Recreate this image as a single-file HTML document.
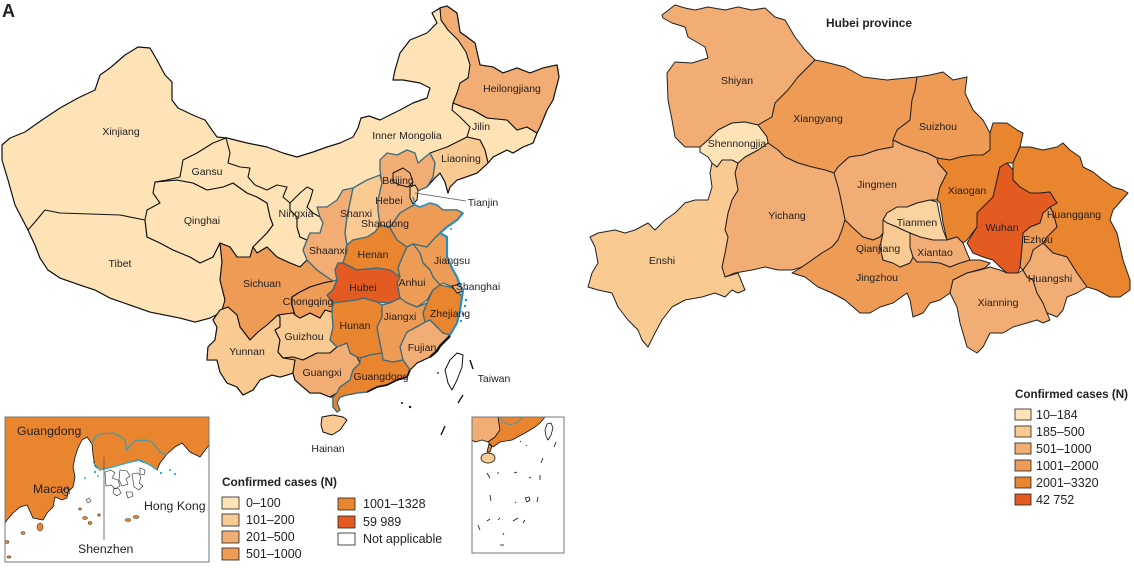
<!DOCTYPE html>
<html><head><meta charset="utf-8"><style>
html,body{margin:0;padding:0;background:#fff;}
svg{display:block;}
text{font-family:"Liberation Sans",Arial,sans-serif;fill:#231f20;}
.l{font-size:10.5px;text-anchor:middle;}
.lg{font-size:12.5px;}
.t{font-size:11.8px;font-weight:bold;}
</style></head><body>
<svg width="1134" height="570" viewBox="0 0 1134 570" xmlns="http://www.w3.org/2000/svg">
<rect width="1134" height="570" fill="#fff"/>
<text x="2" y="17" style="font-size:18px;font-weight:bold">A</text>

<!-- ===== CHINA MAP ===== -->
<g stroke-linejoin="round">
<polygon fill="#fde3b6" stroke="#111" stroke-width="1.2" points="2,145 10,138 25,132 42,120 60,108 78,98 95,90 100,75 110,68 125,55 138,47 150,48 157,60 165,75 172,82 172,100 178,108 195,116 205,120 212,130 217,137 227,138 247,143 267,147 283,153 297,157 313,152 327,147 340,143 353,137 358,128 361,118 369,116 380,120 400,110 413,103 427,98 430,88 420,83 403,80 393,80 395,70 400,53 410,40 427,33 437,23 432,13 440,8 447,6 457,13 460,32 475,43 480,65 493,67 503,73 517,68 530,73 543,68 557,65 559,77 553,100 547,110 540,127 537,133 533,143 523,147 513,153 507,150 493,157 488,163 477,173 463,178 457,180 450,187 448,193 445,182 440,173 433,180 427,187 415,192 413,197 415,205 420,207 430,203 437,205 443,210 457,210 463,213 457,220 447,227 440,233 447,237 447,257 453,270 457,277 460,285 463,291 462,297 460,310 457,323 450,335 445,340 440,345 437,350 430,357 417,363 410,370 407,377 397,380 387,385 377,387 367,392 357,393 347,395 340,397 337,403 340,410 337,412 333,407 333,397 330,397 320,393 310,393 303,387 295,380 293,373 287,375 280,377 272,375 260,380 253,390 243,395 237,387 227,383 220,372 217,360 207,360 208,347 215,340 217,327 213,320 220,310 210,318 195,322 180,318 165,315 150,312 130,305 110,298 95,290 80,285 60,278 48,270 40,258 35,245 28,230 15,205 8,180 2,160"/>

<!-- cream provinces -->
<g fill="#fde3b6" stroke="#111" stroke-width="1.1">
<polygon points="28,230 35,222 45,210 60,213 90,214 120,215 145,220 147,237 160,243 173,250 190,257 200,263 213,257 220,243 222,262 220,280 225,300 222,312 210,318 195,322 180,318 165,315 150,312 130,305 110,298 95,290 80,285 60,278 48,270 40,258 35,245"/>
<polygon points="155,182 177,180 193,183 207,190 223,187 233,183 247,193 257,197 267,203 270,217 273,225 267,233 260,240 253,247 250,257 237,257 230,247 220,243 213,257 200,263 190,257 173,250 160,243 147,237 145,220 147,210 160,203 153,193"/>
<polygon points="226,138 230,153 228,163 240,167 250,168 248,177 255,185 267,190 277,185 287,187 283,197 290,203 290,210 297,217 297,227 300,237 307,240 303,250 307,260 300,267 290,263 277,257 267,247 257,253 253,247 260,240 267,233 273,225 270,217 267,203 257,197 247,193 233,183 223,187 207,190 193,183 177,180 155,182 167,180 180,177 183,160 197,153 213,143"/>
<polygon points="290,203 300,193 307,187 313,190 310,200 307,207 313,213 320,217 323,223 320,233 310,233 307,240 300,237 297,227 297,217 290,210"/>
<polygon points="453,103 463,107 473,110 487,118 507,120 517,130 527,127 537,133 533,143 523,147 513,153 507,150 493,157 488,163 485,150 480,140 467,137 470,127 460,117 452,110"/>
</g>

<!-- black-bordered colored provinces -->
<g stroke="#111" stroke-width="1.1">
<polygon fill="#f1ad73" points="440,8 447,6 457,13 460,32 475,43 480,65 493,67 503,73 517,68 530,73 543,68 557,65 559,77 553,100 547,110 540,127 537,133 527,127 517,130 507,120 487,118 473,110 463,107 453,103 457,93 460,83 468,78 470,65 466,52 458,40 448,30 441,20"/>
<polygon fill="#f9ca92" points="430,153 447,147 467,137 480,140 485,150 488,163 477,173 463,178 457,180 450,187 448,193 445,182 440,173 433,180 427,187 433,177 435,163"/>
<polygon fill="#ee9b55" points="220,243 230,247 237,257 250,257 253,247 257,253 267,247 277,257 290,263 300,267 307,260 317,270 327,277 333,281 323,283 310,287 300,292 292,297 292,305 295,315 300,318 293,313 278,315 267,325 258,332 250,340 240,327 237,315 228,307 222,310 225,300 220,280 222,262"/>
<polygon fill="#f9ca92" points="220,310 228,307 237,315 240,327 250,340 258,332 267,325 278,315 280,317 280,327 275,330 280,340 278,352 283,358 292,357 295,360 293,373 287,375 280,377 272,375 260,380 253,390 243,395 237,387 227,383 220,372 217,360 207,360 208,347 215,340 217,327 213,320"/>
<polygon fill="#f9ca92" points="278,315 293,313 300,318 310,313 320,318 325,310 332,312 333,327 330,340 337,347 330,353 317,353 303,360 293,357 283,358 278,352 280,340 275,330 280,327 280,317"/>
<polygon fill="#ee9b55" points="292,297 300,292 310,287 323,283 333,281 337,280 333,290 327,295 333,303 332,312 325,310 320,318 310,313 300,318 295,315 292,305"/>
<polygon fill="#f1ad73" points="283,358 293,357 303,360 317,353 330,353 337,347 347,343 350,353 357,357 360,363 353,370 350,380 340,387 337,393 330,397 320,393 310,393 303,387 295,380 293,373 295,360"/>
<polygon fill="#f1ad73" points="425,322 430,320 437,327 443,333 450,335 445,340 440,345 437,350 430,357 417,363 410,370 403,360 400,347 403,340 407,332 420,325"/>
</g>

<!-- teal-bordered provinces -->
<g stroke="#3d6c7c" stroke-width="1.3">
<polygon fill="#f1ad73" points="317,207 327,207 337,200 343,190 353,188 350,203 347,217 345,233 347,245 347,250 343,263 338,263 335,270 337,280 333,281 327,277 317,270 307,260 303,250 307,240 310,233 320,233 323,223 320,217"/>
<polygon fill="#f9ca92" points="353,188 367,180 380,175 382,183 378,200 378,210 380,225 375,232 367,237 353,240 347,245 345,233 347,217 350,203"/>
<polygon fill="#f1ad73" points="380,160 387,153 397,155 407,150 415,153 418,163 430,153 435,163 433,177 427,187 415,192 413,197 415,205 410,207 400,213 395,220 390,227 380,225 378,210 378,200 382,183 380,170"/>
<polygon fill="#ee9b55" points="397,240 390,228 395,220 400,213 410,207 415,205 420,207 430,203 437,205 443,210 457,210 463,213 457,220 447,227 440,233 433,240 427,247 413,244 407,247"/>
<polygon fill="#e9842f" points="347,245 353,240 367,237 375,232 380,225 390,228 397,240 407,247 402,258 398,268 400,277 390,270 377,268 357,270 343,263 347,250"/>
<polygon fill="#ee9b55" points="413,244 427,247 433,240 440,233 447,237 447,257 453,270 457,277 460,285 453,287 443,283 440,285 433,277 430,270 423,263 420,253"/>
<polygon fill="#ee9b55" points="407,247 413,244 420,253 423,263 430,270 433,277 440,285 433,290 427,300 417,307 407,303 400,298 397,283 400,277 398,268 402,258"/>
<polygon fill="#e45b21" points="338,263 343,263 357,270 377,268 390,270 400,277 397,283 400,298 390,303 377,302 363,298 357,300 340,302 333,303 327,295 333,290 337,280 335,270"/>
<polygon fill="#e9842f" points="333,303 340,302 357,300 363,298 377,302 382,305 382,317 377,327 380,343 382,353 370,355 360,358 357,357 350,353 347,343 337,347 330,340 333,327 332,312"/>
<polygon fill="#ee9b55" points="382,305 390,303 400,298 407,303 417,307 427,303 423,313 425,322 420,325 407,332 403,340 400,347 403,360 393,362 383,360 382,353 380,343 377,327 382,317"/>
<polygon fill="#e9842f" points="440,285 450,287 457,290 462,297 460,310 457,323 450,335 443,333 437,327 430,320 425,322 423,313 427,303 433,290"/>
<polygon fill="#e9842f" points="360,358 370,355 382,353 383,360 393,362 403,360 410,370 407,377 397,380 387,385 377,387 367,392 357,393 347,395 340,397 337,403 340,410 337,412 333,407 333,397 337,393 340,387 350,380 353,370 360,363"/>
</g>
<g stroke="#111" stroke-width="1">
<polygon fill="#f1ad73" points="393,173 403,168 410,173 413,182 408,187 400,185 393,182"/>
<polygon fill="#f9ca92" points="410,187 415,185 418,190 417,200 413,204 410,198"/>
<polygon fill="#f1ad73" points="452,286 460,284 463,291 457,293"/>
<polygon fill="#f9ca92" points="322,417 333,415 343,417 347,420 340,430 332,435 323,432 321,425"/>
<polygon fill="#fff" points="457,353 463,355 462,367 457,380 452,390 448,383 445,370 450,360"/>
</g>
<!-- coast overlay -->
<polyline fill="none" stroke="#2b8cc4" stroke-width="2.2" points="463,213 457,220 447,227 440,233 447,237 447,257 453,270 457,277 460,285 463,291 462,297 460,310 457,323 450,335"/>
<polyline fill="none" stroke="#2b8cc4" stroke-width="1.5" points="413,197 415,205 420,207 430,203 437,205"/>
<g fill="#2b8cc4"><circle cx="466" cy="300" r="1.3"/><circle cx="465" cy="306" r="1.2"/><circle cx="463" cy="314" r="1.3"/><circle cx="461" cy="321" r="1.1"/><circle cx="466" cy="289" r="1"/><circle cx="451" cy="229" r="1"/></g>
<polyline fill="none" stroke="#111" stroke-width="2.4" points="450,336 445,341 440,346 437,351 430,357"/>
<polyline fill="none" stroke="#111" stroke-width="1.8" points="410,370 407,377 397,380 387,385 377,387 367,392"/>
<g stroke="#111" stroke-width="1.4" fill="#111">
<line x1="470" y1="360" x2="473" y2="369"/><line x1="463" y1="395" x2="458" y2="403"/><line x1="445" y1="426" x2="441" y2="435"/>
<circle cx="402" cy="403" r="1" stroke="none"/><circle cx="410" cy="407" r="1.2" stroke="none"/><circle cx="438" cy="373" r="0.9" stroke="none"/>
</g>
<line x1="415" y1="193" x2="466" y2="201" stroke="#555" stroke-width="0.8"/>
</g>

<!-- China labels -->
<g class="l">
<text x="121" y="135">Xinjiang</text>
<text x="407" y="139">Inner Mongolia</text>
<text x="512" y="92">Heilongjiang</text>
<text x="481" y="130">Jilin</text>
<text x="461" y="162">Liaoning</text>
<text x="207" y="175">Gansu</text>
<text x="398" y="184">Beijing</text>
<text x="483" y="206">Tianjin</text>
<text x="389" y="204">Hebei</text>
<text x="356" y="217">Shanxi</text>
<text x="296" y="217">Ningxia</text>
<text x="202" y="224">Qinghai</text>
<text x="385" y="227">Shandong</text>
<text x="373" y="258">Henan</text>
<text x="328" y="254">Shaanxi</text>
<text x="452" y="264">Jiangsu</text>
<text x="120" y="267">Tibet</text>
<text x="262" y="287">Sichuan</text>
<text x="412" y="286">Anhui</text>
<text x="363" y="291">Hubei</text>
<text x="478" y="290">Shanghai</text>
<text x="308" y="305">Chongqing</text>
<text x="355" y="329">Hunan</text>
<text x="400" y="320">Jiangxi</text>
<text x="450" y="317">Zhejiang</text>
<text x="304" y="340">Guizhou</text>
<text x="247" y="355">Yunnan</text>
<text x="422" y="351">Fujian</text>
<text x="322" y="376">Guangxi</text>
<text x="381" y="380">Guangdong</text>
<text x="494" y="382">Taiwan</text>
<text x="328" y="452">Hainan</text>
</g>

<!-- Guangdong inset -->
<defs><clipPath id="c1"><rect x="5" y="417" width="204" height="145"/></clipPath>
<clipPath id="c2"><rect x="472" y="417" width="92" height="136"/></clipPath></defs>
<g clip-path="url(#c1)">
<polygon fill="#e9842f" stroke="#111" stroke-width="0.8" points="5,417 209,417 209,445 200,457 190,452 182,443 175,447 167,454 160,463 157,470 150,465 138,460 127,463 113,467 100,470 95,466 93,455 92,444 87,437 82,440 78,448 75,457 73,467 75,477 73,487 68,492 67,498 62,500 55,497 53,507 47,513 43,520 33,518 27,505 20,507 13,513 7,520 5,523"/>
<polyline fill="none" stroke="#4a9aa8" stroke-width="1.3" points="92,444 95,437 100,434 113,433 120,436 125,440 127,450 130,445 135,441 145,440 152,442 157,448 160,452 167,455"/>
<polyline fill="none" stroke="#2ab0d0" stroke-width="1.3" points="93,462 100,470 113,467 127,463 140,460 150,465 157,470"/>
<g fill="#2ab0d0"><circle cx="95" cy="472" r="1.2"/><circle cx="98" cy="476" r="1"/><circle cx="161" cy="473" r="1.2"/><circle cx="170" cy="470" r="1"/><circle cx="175" cy="474" r="1.1"/><circle cx="85" cy="478" r="1"/></g>
<g fill="none" stroke="#222" stroke-width="0.6">
<path d="M105 472 l6 -2 l4 3 l-3 5 l6 2 l2 6 l-5 3 l-4 -4 l-5 1 z"/>
<path d="M120 470 l7 1 l3 5 l-4 3 l2 5 l-6 2 l-3 -6 z"/>
<path d="M132 474 l6 -1 l3 4 l-2 6 l4 3 l-4 4 l-5 -3 z"/>
<path d="M114 488 l5 1 l2 4 l-4 3 l-4 -3 z"/>
<path d="M126 492 l6 0 l1 4 l-5 2 z"/>
<path d="M140 468 l5 2 l-1 5 l-4 -1 z"/>
<path d="M86 500 l3 -2 l2 3 l-3 2 z"/>
<path d="M61 491 l6 -3 l3 5 l-5 3 z"/>
</g>
<g fill="#e9842f" stroke="#222" stroke-width="0.5">
<ellipse cx="40" cy="527" rx="3" ry="4"/><ellipse cx="23" cy="533" rx="2" ry="1.5"/><ellipse cx="7" cy="542" rx="2" ry="1.5"/><ellipse cx="9" cy="557" rx="2" ry="1.2"/>
<ellipse cx="85" cy="518" rx="2.5" ry="1.5"/><ellipse cx="90" cy="523" rx="2" ry="1.5"/><ellipse cx="99" cy="515" rx="1.5" ry="1.2"/>
<ellipse cx="128" cy="520" rx="3" ry="1.5"/><ellipse cx="136" cy="517" rx="3" ry="1.5"/><ellipse cx="80" cy="509" rx="1.5" ry="1.2"/>
</g>
</g>
<rect x="5" y="417" width="204" height="145" fill="none" stroke="#777" stroke-width="1"/>
<line x1="104" y1="457" x2="104" y2="540" stroke="#555" stroke-width="0.8"/>
<g style="font-size:12.3px">
<text x="17" y="435">Guangdong</text>
<text x="33" y="493">Macao</text>
<text x="144" y="510">Hong Kong</text>
<text x="78" y="553">Shenzhen</text>
</g>

<!-- SCS inset -->
<g clip-path="url(#c2)" stroke-linejoin="round">
<polygon fill="#f1ad73" stroke="#111" stroke-width="0.8" points="472,417 498,417 500,430 495,437 488,442 482,440 475,442 472,440"/>
<polygon fill="#e9842f" stroke="#111" stroke-width="0.8" points="498,417 545,417 540,423 535,427 525,433 512,440 500,442 493,447 490,444 488,442 495,437 500,430"/>
<polyline fill="none" stroke="#4a9aa8" stroke-width="1" points="500,417 503,422 510,425 518,422 523,417"/>
<polygon fill="#e9842f" stroke="#111" stroke-width="0.8" points="489,444 487,452 490,452 492,446"/>
<ellipse cx="488" cy="458" rx="7" ry="5" fill="#f9ca92" stroke="#111" stroke-width="0.8"/>
<polygon fill="#fff" stroke="#111" stroke-width="0.8" points="547,424 551,423 553,428 551,435 548,440 546,436 545,430"/>
<g stroke="#111" stroke-width="0.8" fill="none">
<line x1="556" y1="442" x2="554" y2="447"/><line x1="543" y1="458" x2="541" y2="463"/><line x1="487" y1="473" x2="490" y2="478"/>
<line x1="497" y1="473" x2="499" y2="473"/><line x1="514" y1="473" x2="517" y2="472"/><line x1="529" y1="478" x2="531" y2="477"/>
<line x1="540" y1="475" x2="540" y2="480"/><line x1="490" y1="495" x2="491" y2="501"/><line x1="538" y1="497" x2="537" y2="502"/>
<line x1="515" y1="502" x2="516" y2="503"/><path d="M525 498 l4 -1 l1 3 l-3 2 z"/><line x1="478" y1="525" x2="480" y2="530"/>
<line x1="487" y1="521" x2="490" y2="519"/><line x1="498" y1="520" x2="500" y2="518"/><line x1="513" y1="521" x2="518" y2="518"/>
<line x1="523" y1="523" x2="525" y2="520"/><line x1="503" y1="533" x2="504" y2="535"/><line x1="500" y1="545" x2="504" y2="545"/>
<line x1="520" y1="441" x2="521" y2="442"/><line x1="526" y1="445" x2="527" y2="446"/>
</g>
</g>
<rect x="472" y="417" width="92" height="136" fill="none" stroke="#777" stroke-width="1"/>

<!-- China legend -->
<text class="t" x="222" y="486" textLength="115" lengthAdjust="spacingAndGlyphs">Confirmed cases (N)</text>
<g stroke="#222" stroke-width="0.8">
<rect x="222" y="497" width="17" height="12" fill="#fde3b6"/>
<rect x="222" y="514" width="17" height="12" fill="#f9ca92"/>
<rect x="222" y="531" width="17" height="12" fill="#f1ad73"/>
<rect x="222" y="548" width="17" height="12" fill="#ee9b55"/>
<rect x="338" y="498" width="17" height="12" fill="#e9842f"/>
<rect x="338" y="516" width="17" height="12" fill="#e45b21"/>
<rect x="338" y="533" width="17" height="12" fill="#fff"/>
</g>
<g class="lg">
<text x="246" y="507">0–100</text>
<text x="246" y="524">101–200</text>
<text x="246" y="541">201–500</text>
<text x="246" y="558">501–1000</text>
<text x="363" y="508">1001–1328</text>
<text x="363" y="526">59 989</text>
<text x="363" y="543">Not applicable</text>
</g>

<!-- ===== HUBEI MAP ===== -->
<text x="869" y="27" style="font-size:11.9px;font-weight:bold;text-anchor:middle">Hubei province</text>
<g stroke="#222" stroke-width="1" stroke-linejoin="round">
<polygon fill="#f1ad73" points="662,15 675,5 685,8 695,10 708,7 725,10 738,7 752,10 765,8 775,17 785,20 795,37 805,50 815,60 798,77 788,90 775,103 772,117 758,125 745,122 732,123 718,130 708,140 700,147 685,147 675,137 672,120 668,100 667,73 675,62 692,63 708,58 705,47 688,37 685,27 672,23 663,18"/>
<polygon fill="#ee9b55" points="815,60 825,62 845,67 863,77 887,80 917,77 915,90 912,100 910,120 897,130 893,140 893,147 877,150 863,155 849,157 838,167 834,173 825,170 812,167 798,163 785,157 778,150 768,143 767,137 758,125 772,117 775,103 788,90 798,77"/>
<polygon fill="#ee9b55" points="917,77 930,75 943,72 953,80 967,77 965,93 973,110 983,120 990,133 990,150 983,155 973,155 960,157 950,160 937,158 927,153 917,150 903,145 893,140 897,130 910,120 912,100 915,90"/>
<polygon fill="#f1ad73" points="834,173 838,167 849,157 863,155 877,150 893,147 893,140 903,145 917,150 927,153 937,158 938,163 947,173 940,187 937,200 930,200 917,203 907,207 897,207 887,213 883,220 883,233 880,237 873,240 863,237 852,227 845,220 841,200 838,187"/>
<polygon fill="#f1ad73" points="738,163 745,157 758,150 768,143 778,150 785,157 798,163 812,167 825,170 834,173 838,187 841,200 845,220 842,230 838,240 832,247 822,253 812,260 802,267 792,270 778,270 765,267 752,270 735,273 725,277 722,267 725,253 728,237 725,230 728,213 732,200 738,190 735,173"/>
<polygon fill="#f9ca92" points="712,163 717,167 722,160 732,160 738,163 735,173 738,190 732,200 728,213 725,230 728,237 725,253 722,267 725,277 738,273 745,290 738,293 732,290 725,297 715,293 702,297 685,300 672,307 662,320 655,333 648,347 642,340 638,330 628,320 618,307 612,293 598,290 588,287 592,273 598,263 595,247 590,237 598,233 615,230 625,233 635,230 648,223 655,230 665,220 675,213 685,203 695,200 708,200 712,187 710,173"/>
<polygon fill="#fde3b6" points="700,147 708,140 718,130 732,123 745,122 758,125 767,137 768,143 758,150 745,157 738,163 732,160 722,160 717,167 712,163 708,157 700,152"/>
<polygon fill="#ee9b55" points="792,273 802,267 812,260 822,253 832,247 838,240 842,230 845,220 852,227 863,237 873,240 880,237 883,233 880,247 883,260 893,263 900,267 910,263 913,257 917,262 930,262 940,263 950,267 960,263 970,260 980,260 990,263 985,268 967,273 953,280 950,293 940,300 930,303 923,313 913,317 910,300 907,293 893,303 880,307 870,313 860,313 845,300 832,293 818,287 805,277"/>
<polygon fill="#e9842f" points="937,158 950,160 960,157 973,155 983,155 990,150 990,133 993,123 1007,123 1017,130 1023,133 1020,147 1013,163 1007,163 1000,167 997,180 993,197 987,203 977,213 977,227 967,240 963,243 957,237 947,240 943,223 940,203 937,200 940,187 947,173 938,163"/>
<polygon fill="#fad3a0" points="883,220 887,213 897,207 907,207 917,203 930,200 937,202 940,217 943,230 947,240 933,240 920,237 910,233 903,230 897,227 887,223"/>
<polygon fill="#f9ca92" points="883,220 887,223 897,227 903,230 910,233 910,247 913,257 910,263 900,267 893,263 883,260 880,247 883,233"/>
<polygon fill="#f1ad73" points="910,233 920,237 933,240 947,240 957,237 963,243 967,253 970,260 960,263 950,267 940,263 930,262 917,262 913,257 910,247"/>
<polygon fill="#e9842f" points="1013,163 1020,147 1030,147 1043,150 1057,147 1063,143 1070,150 1080,157 1083,167 1093,172 1103,180 1113,187 1123,190 1128,193 1113,210 1110,220 1117,233 1120,247 1123,260 1130,280 1130,290 1120,297 1110,297 1097,290 1087,287 1077,273 1067,257 1053,253 1043,243 1047,237 1057,227 1053,213 1050,207 1057,203 1053,197 1050,192 1040,193 1030,193 1020,187 1013,180 1013,170"/>
<polygon fill="#f1ad73" points="953,280 967,273 980,270 990,267 1000,270 1007,273 1018,273 1023,270 1027,277 1033,280 1037,293 1043,303 1047,313 1050,320 1043,323 1037,320 1027,323 1013,327 1003,333 990,333 983,347 977,353 967,347 963,333 960,323 957,307 950,293"/>
<polygon fill="#f1ad73" points="1023,270 1030,260 1033,250 1043,243 1053,253 1067,257 1077,273 1087,287 1077,293 1067,297 1063,310 1057,317 1047,313 1043,303 1037,293 1033,280 1027,277"/>
<polygon fill="#ee9b55" points="1040,223 1043,213 1050,207 1053,213 1057,227 1047,237 1043,243 1033,250 1030,260 1023,270 1020,267 1022,247 1023,233 1030,227"/>
<polygon fill="#e45b21" points="1000,167 1007,163 1013,170 1013,180 1020,187 1030,193 1040,193 1050,192 1053,197 1057,203 1050,207 1043,213 1040,223 1030,227 1023,233 1022,247 1020,267 1018,273 1007,273 1000,267 993,260 983,257 973,253 967,243 977,227 977,213 987,203 993,197 997,180"/>
</g>
<g class="l">
<text x="737" y="84">Shiyan</text>
<text x="818" y="122">Xiangyang</text>
<text x="737" y="147">Shennongjia</text>
<text x="787" y="219">Yichang</text>
<text x="662" y="264">Enshi</text>
<text x="938" y="130">Suizhou</text>
<text x="877" y="188">Jingmen</text>
<text x="967" y="194">Xiaogan</text>
<text x="917" y="226">Tianmen</text>
<text x="1002" y="231">Wuhan</text>
<text x="1074" y="218">Huanggang</text>
<text x="1038" y="243">Ezhou</text>
<text x="878" y="252">Qianjiang</text>
<text x="935" y="256">Xiantao</text>
<text x="877" y="281">Jingzhou</text>
<text x="1050" y="282">Huangshi</text>
<text x="998" y="306">Xianning</text>
</g>

<!-- Hubei legend -->
<text class="t" x="1015" y="398" textLength="113" lengthAdjust="spacingAndGlyphs">Confirmed cases (N)</text>
<g stroke="#222" stroke-width="0.8">
<rect x="1015" y="409" width="16" height="11" fill="#fde3b6"/>
<rect x="1015" y="426" width="16" height="11" fill="#f9ca92"/>
<rect x="1015" y="443" width="16" height="11" fill="#f1ad73"/>
<rect x="1015" y="460" width="16" height="11" fill="#ee9b55"/>
<rect x="1015" y="477" width="16" height="11" fill="#e9842f"/>
<rect x="1015" y="494" width="16" height="11" fill="#e45b21"/>
</g>
<g class="lg">
<text x="1036" y="419">10–184</text>
<text x="1036" y="436">185–500</text>
<text x="1036" y="453">501–1000</text>
<text x="1036" y="470">1001–2000</text>
<text x="1036" y="487">2001–3320</text>
<text x="1036" y="504">42 752</text>
</g>
</svg>
</body></html>
